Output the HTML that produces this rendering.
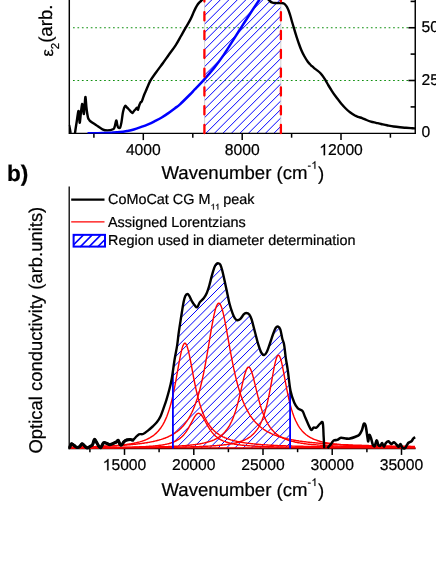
<!DOCTYPE html>
<html><head><meta charset="utf-8"><title>chart</title>
<style>html,body{margin:0;padding:0;background:#fff;overflow:hidden}body{width:436px;height:564px}</style>
</head><body>
<svg width="436" height="564" viewBox="0 0 436 564" text-rendering="geometricPrecision" style="display:block;will-change:transform;font-family:'Liberation Sans',sans-serif" fill="#000">
<defs>
<clipPath id="ct"><rect x="204.6" y="-2" width="76.2" height="135.3"/></clipPath>
<clipPath id="ctb"><rect x="69.3" y="-2" width="347" height="135.4"/></clipPath>
<clipPath id="ctp"><rect x="69.3" y="-2" width="347" height="136.2"/></clipPath>
<clipPath id="cb"><path d="M173.0,448.5 L173.0,370.3 L174.6,359.5 L177.2,345.1 L178.8,332.1 L181.3,316.0 L183.7,301.6 L185.3,295.9 L187.4,294.0 L189.3,295.9 L191.7,300.8 L194.9,305.6 L197.3,307.2 L199.7,302.4 L203.7,298.3 L206.9,292.7 L209.3,285.5 L211.8,275.9 L214.2,267.8 L216.1,264.3 L218.2,263.3 L220.3,264.6 L222.2,270.3 L224.6,280.7 L227.0,291.9 L229.4,303.2 L232.4,312.8 L234.8,318.1 L237.2,320.2 L240.4,318.9 L243.7,314.4 L246.1,313.0 L249.3,314.4 L251.7,319.7 L254.9,331.7 L258.1,343.8 L261.3,352.6 L264.2,355.0 L266.9,351.8 L270.1,343.0 L273.4,333.3 L275.8,327.7 L278.2,326.6 L280.3,329.3 L282.2,338.2 L284.1,344.6 L285.7,357.4 L287.8,370.3 L290.0,386.9 L290.0,448.5Z"/></clipPath>
<clipPath id="cl"><rect x="73" y="234" width="33" height="13.5"/></clipPath>
</defs>
<style>text{stroke:#000;stroke-width:0.22px;stroke-linejoin:round}.h{fill:none;stroke:none}</style>
<rect width="436" height="564" fill="#fff"/>
<line x1="73.0" y1="27.75" x2="409" y2="27.75" stroke="#109010" stroke-width="1.05" stroke-dasharray="1.7 2.746"/>
<line x1="73.0" y1="80.5" x2="409" y2="80.5" stroke="#109010" stroke-width="1.05" stroke-dasharray="1.7 2.746"/>
<path d="M69.90,133.30L205.20,-2.00 M78.40,133.30L213.70,-2.00 M86.90,133.30L222.20,-2.00 M95.40,133.30L230.70,-2.00 M103.90,133.30L239.20,-2.00 M112.40,133.30L247.70,-2.00 M120.90,133.30L256.20,-2.00 M129.40,133.30L264.70,-2.00 M137.90,133.30L273.20,-2.00 M146.40,133.30L281.70,-2.00 M154.90,133.30L290.20,-2.00 M163.40,133.30L298.70,-2.00 M171.90,133.30L307.20,-2.00 M180.40,133.30L315.70,-2.00 M188.90,133.30L324.20,-2.00 M197.40,133.30L332.70,-2.00 M205.90,133.30L341.20,-2.00 M214.40,133.30L349.70,-2.00 M222.90,133.30L358.20,-2.00 M231.40,133.30L366.70,-2.00 M239.90,133.30L375.20,-2.00 M248.40,133.30L383.70,-2.00 M256.90,133.30L392.20,-2.00 M265.40,133.30L400.70,-2.00 M273.90,133.30L409.20,-2.00 M282.40,133.30L417.70,-2.00" stroke="#0000ff" stroke-width="1.0" fill="none" clip-path="url(#ct)"/>
<path d="M204.6,-2V133M280.8,-2V133" stroke="#c8c8c8" stroke-width="0.8" fill="none"/>
<path d="M69.5,125.0 L70.3,129.0 L71.0,133.0" stroke="#000" stroke-width="1.6" fill="none" stroke-linejoin="round"/>
<path d="M75.0,133.2 C75.2,131.5 75.9,126.7 76.5,123.0 C77.1,119.3 78.0,112.0 78.4,111.0 C78.9,110.0 79.0,115.1 79.2,117.0 C79.4,118.9 79.5,123.4 79.8,122.6 C80.1,121.8 80.6,115.1 81.0,112.0 C81.4,108.9 81.8,104.5 82.1,104.0 C82.4,103.5 82.8,107.3 83.1,109.0 C83.4,110.7 83.6,114.8 83.9,114.0 C84.2,113.2 84.4,106.8 84.7,104.0 C85.0,101.2 85.2,96.3 85.5,97.0 C85.8,97.7 86.1,104.6 86.5,108.0 C86.9,111.4 87.5,115.6 88.0,117.6 C88.5,119.6 88.8,119.2 89.2,119.8 C89.6,120.4 89.3,120.4 90.4,121.3 C91.5,122.2 94.0,123.7 96.0,125.0 C98.0,126.3 100.6,128.4 102.5,129.3 C104.4,130.2 105.7,130.4 107.4,130.4 C109.2,130.4 111.8,129.9 113.0,129.3 C114.2,128.7 114.1,128.5 114.6,127.0 C115.1,125.5 115.8,120.8 116.2,120.5 C116.7,120.2 117.0,123.8 117.3,125.0 C117.6,126.2 117.8,127.2 118.3,127.6 C118.8,128.0 119.7,128.3 120.2,127.4 C120.7,126.5 121.0,124.6 121.5,122.0 C122.0,119.4 122.4,114.7 123.0,112.0 C123.6,109.3 124.4,106.8 125.1,106.0 C125.8,105.2 126.3,106.9 127.0,107.5 C127.7,108.1 128.3,108.8 129.0,109.5 C129.7,110.2 130.4,111.2 131.0,111.8 C131.6,112.4 131.9,113.1 132.4,113.0 C132.9,112.9 133.4,111.7 134.0,111.0 C134.6,110.3 135.3,109.6 135.8,109.0 C136.3,108.4 136.8,107.5 137.2,107.6 C137.6,107.7 137.7,110.1 138.0,109.8 C138.3,109.5 138.8,106.7 139.2,105.5 C139.6,104.3 140.2,103.1 140.6,102.4 C141.0,101.8 141.3,102.2 141.7,101.6 C142.0,101.0 142.3,100.1 142.7,99.0 C143.1,97.9 143.6,96.3 144.1,95.0 C144.6,93.7 144.8,93.4 145.8,91.0 C146.9,88.6 148.7,83.8 150.4,80.7 C152.1,77.6 153.9,75.5 156.0,72.5 C158.1,69.5 160.8,66.0 163.0,63.0 C165.2,60.0 166.9,57.4 169.0,54.5 C171.1,51.6 173.6,48.5 175.6,45.4 C177.6,42.3 179.3,39.0 181.0,36.0 C182.7,33.0 184.1,30.6 185.7,27.7 C187.3,24.8 189.4,21.4 190.7,18.9 C192.0,16.4 192.7,14.4 193.5,12.5 C194.3,10.6 195.1,9.0 195.8,7.6 C196.6,6.2 197.4,4.9 198.0,4.0 C198.6,3.1 199.0,2.8 199.6,2.2 C200.2,1.6 200.9,1.0 201.5,0.5 C202.1,-0.0 203.0,-0.8 203.3,-1.0" stroke="#000" stroke-width="2.4" fill="none" stroke-linejoin="round" clip-path="url(#ctp)"/>
<path d="M267.3,-1.6 C267.8,-1.1 269.1,0.5 270.0,1.2 C270.9,1.9 271.7,2.3 272.5,2.6 C273.3,2.9 274.1,2.9 275.0,3.0 C275.9,3.1 276.9,3.1 278.0,3.1 C279.1,3.1 280.5,3.0 281.4,3.0 C282.3,3.0 282.9,3.1 283.5,3.4 C284.1,3.6 284.5,3.9 285.1,4.5 C285.7,5.1 286.4,5.8 287.0,7.0 C287.6,8.2 288.3,9.7 288.9,11.4 C289.5,13.1 290.1,14.9 290.7,17.0 C291.3,19.1 291.7,20.7 292.7,24.0 C293.7,27.3 295.4,33.3 296.5,36.6 C297.6,39.9 298.2,41.7 299.0,44.0 C299.8,46.3 300.6,48.4 301.5,50.5 C302.4,52.6 303.4,54.6 304.5,56.5 C305.6,58.4 306.7,60.3 307.8,61.8 C308.9,63.3 309.9,64.2 311.0,65.3 C312.1,66.3 313.0,67.2 314.1,68.1 C315.2,69.0 316.4,69.8 317.5,70.6 C318.6,71.4 319.6,72.2 320.5,73.2 C321.4,74.2 322.2,75.1 323.0,76.3 C323.8,77.5 324.6,78.7 325.5,80.2 C326.4,81.7 327.4,83.7 328.5,85.5 C329.6,87.3 330.7,89.1 331.8,90.8 C332.9,92.5 333.9,94.0 335.0,95.5 C336.1,97.0 336.9,98.1 338.1,99.6 C339.3,101.1 340.7,103.0 342.0,104.5 C343.3,106.0 344.4,107.2 345.7,108.5 C347.0,109.8 348.5,111.2 350.0,112.3 C351.5,113.4 353.2,114.5 354.5,115.3 C355.8,116.0 356.7,116.3 358.0,116.8 C359.3,117.3 360.7,117.6 362.1,118.1 C363.5,118.6 365.0,119.4 366.5,120.0 C368.0,120.6 369.3,121.1 370.9,121.6 C372.5,122.1 374.3,122.4 376.0,122.8 C377.7,123.2 379.3,123.6 381.1,124.0 C382.9,124.4 384.9,124.9 387.0,125.3 C389.1,125.7 391.4,126.2 393.6,126.5 C395.8,126.8 397.9,127.0 400.0,127.2 C402.1,127.4 404.2,127.7 406.0,127.8 C407.8,127.9 409.4,128.0 411.0,128.1 C412.6,128.2 414.7,128.3 415.4,128.4" stroke="#000" stroke-width="2.4" fill="none" stroke-linejoin="round"/>
<path d="M69.3,-2V133.38000000000002H415.25V-2" stroke="#000" stroke-width="1.45" fill="none" stroke-linejoin="miter"/>
<line x1="93.9" y1="133.3" x2="93.9" y2="137.70000000000002" stroke="#000" stroke-width="1.5"/>
<line x1="143.3" y1="133.3" x2="143.3" y2="140.10000000000002" stroke="#000" stroke-width="1.5"/>
<line x1="192.8" y1="133.3" x2="192.8" y2="137.70000000000002" stroke="#000" stroke-width="1.5"/>
<line x1="242.2" y1="133.3" x2="242.2" y2="140.10000000000002" stroke="#000" stroke-width="1.5"/>
<line x1="291.6" y1="133.3" x2="291.6" y2="137.70000000000002" stroke="#000" stroke-width="1.5"/>
<line x1="341.0" y1="133.3" x2="341.0" y2="140.10000000000002" stroke="#000" stroke-width="1.5"/>
<line x1="390.4" y1="133.3" x2="390.4" y2="137.70000000000002" stroke="#000" stroke-width="1.5"/>
<line x1="410.59999999999997" y1="1.4" x2="415.2" y2="1.4" stroke="#000" stroke-width="1.6"/>
<line x1="408.4" y1="27.75" x2="415.2" y2="27.75" stroke="#000" stroke-width="1.6"/>
<line x1="410.59999999999997" y1="54.1" x2="415.2" y2="54.1" stroke="#000" stroke-width="1.6"/>
<line x1="408.4" y1="80.5" x2="415.2" y2="80.5" stroke="#000" stroke-width="1.6"/>
<line x1="410.59999999999997" y1="106.9" x2="415.2" y2="106.9" stroke="#000" stroke-width="1.6"/>
<path d="M87.5,133.3 C88.2,133.3 90.2,133.3 92.0,133.3 C93.8,133.3 95.7,133.2 98.0,133.2 C100.3,133.1 103.5,133.0 106.0,132.9 C108.5,132.8 110.7,132.7 113.0,132.6 C115.3,132.5 117.7,132.4 120.0,132.1 C122.3,131.8 124.7,131.4 127.0,131.0 C129.3,130.6 131.2,130.3 133.8,129.5 C136.4,128.7 140.5,127.2 142.8,126.4 C145.1,125.6 145.6,125.4 147.5,124.6 C149.4,123.8 151.7,122.8 154.0,121.6 C156.3,120.4 159.0,119.1 161.3,117.7 C163.6,116.3 165.7,115.0 168.0,113.4 C170.3,111.8 173.0,109.7 175.0,108.2 C177.0,106.7 177.5,106.6 180.0,104.3 C182.5,102.0 187.5,97.0 190.0,94.5 C192.5,92.0 192.6,91.7 195.0,89.2 C197.4,86.7 201.1,82.9 204.3,79.3 C207.5,75.7 211.0,71.7 214.3,67.6 C217.6,63.5 220.7,59.3 223.9,54.6 C227.1,49.9 230.6,44.2 233.5,39.6 C236.4,35.0 238.9,31.0 241.6,26.8 C244.3,22.6 246.7,19.0 249.6,14.5 C252.5,10.0 257.1,3.1 259.2,0.0 C261.3,-3.1 261.5,-3.5 262.0,-4.2" stroke="#0000ff" stroke-width="2.5" fill="none" clip-path="url(#ctb)"/>
<line x1="204.4" y1="-6.6" x2="204.4" y2="133.2" stroke="#ff0000" stroke-width="2.3" stroke-dasharray="8.2 10.6" stroke-linecap="round"/>
<line x1="280.9" y1="-6.6" x2="280.9" y2="133.2" stroke="#ff0000" stroke-width="2.3" stroke-dasharray="8.2 10.6" stroke-linecap="round"/>
<text x="125.89" y="155.2" font-size="15.7">4000</text>
<text x="224.73" y="155.2" font-size="15.7">8000</text>
<path d="M325.06,155.20L323.68,155.20L323.68,146.41Q323.18,146.88 322.37,147.36Q321.56,147.83 320.92,148.07L320.92,146.74Q322.07,146.19 322.94,145.42Q323.81,144.64 324.17,143.91L325.06,143.91Z" fill="#000" stroke="#000" stroke-width="0.22" stroke-linejoin="round"/>
<text x="319.21" y="155.2" font-size="15.7"><tspan class="h">1</tspan>2000</text>
<text x="421.5" y="31.95" font-size="15.7">50</text>
<text x="421.5" y="84.70" font-size="15.7">25</text>
<text x="421.5" y="137.45" font-size="15.7">0</text>
<text x="161.5" y="179.3" font-size="18.6">Wavenumber <tspan dy="0.8">(</tspan><tspan dy="-0.8">cm</tspan></text>
<text x="307.58" y="168.80" font-size="10.6">-<tspan class="h" dx="0.3">1</tspan></text>
<path d="M315.36,168.80L314.42,168.80L314.42,162.86Q314.09,163.18 313.54,163.51Q312.99,163.83 312.56,163.99L312.56,163.09Q313.34,162.72 313.93,162.20Q314.51,161.67 314.75,161.18L315.36,161.18Z" fill="#000" stroke="#000" stroke-width="0.22" stroke-linejoin="round"/>
<text x="317.90" y="180.10" font-size="18.6">)</text>
<text transform="translate(52.0,56.6) rotate(-90)" font-size="18.6"><tspan font-size="16.5" dy="0.8">ε</tspan><tspan font-size="11.5" dy="6.6">2</tspan><tspan dy="-7.4">(arb. units)</tspan></text>
<text x="6.9" y="180.7" font-size="22.6" font-weight="bold">b)</text>
<path d="M-17.33,449.00L176.67,255.00 M-8.96,449.00L185.04,255.00 M-0.59,449.00L193.41,255.00 M7.78,449.00L201.78,255.00 M16.15,449.00L210.15,255.00 M24.52,449.00L218.52,255.00 M32.89,449.00L226.89,255.00 M41.26,449.00L235.26,255.00 M49.63,449.00L243.63,255.00 M58.00,449.00L252.00,255.00 M66.37,449.00L260.37,255.00 M74.74,449.00L268.74,255.00 M83.11,449.00L277.11,255.00 M91.48,449.00L285.48,255.00 M99.85,449.00L293.85,255.00 M108.22,449.00L302.22,255.00 M116.59,449.00L310.59,255.00 M124.96,449.00L318.96,255.00 M133.33,449.00L327.33,255.00 M141.70,449.00L335.70,255.00 M150.07,449.00L344.07,255.00 M158.44,449.00L352.44,255.00 M166.81,449.00L360.81,255.00 M175.18,449.00L369.18,255.00 M183.55,449.00L377.55,255.00 M191.92,449.00L385.92,255.00 M200.29,449.00L394.29,255.00 M208.66,449.00L402.66,255.00 M217.03,449.00L411.03,255.00 M225.40,449.00L419.40,255.00 M233.77,449.00L427.77,255.00 M242.14,449.00L436.14,255.00 M250.51,449.00L444.51,255.00 M258.88,449.00L452.88,255.00 M267.25,449.00L461.25,255.00 M275.62,449.00L469.62,255.00 M283.99,449.00L477.99,255.00 M292.36,449.00L486.36,255.00" stroke="#0000ff" stroke-width="1.0" fill="none" clip-path="url(#cb)"/>
<path d="M69.2,186.5V449.3" stroke="#000" stroke-width="1.3" fill="none"/>
<path d="M68.55,448.5H415.6" stroke="#000" stroke-width="1.6" fill="none"/>
<line x1="89.9" y1="448.5" x2="89.9" y2="452.2" stroke="#000" stroke-width="1.5"/>
<line x1="124.5" y1="448.5" x2="124.5" y2="454.90000000000003" stroke="#000" stroke-width="1.5"/>
<line x1="159.1" y1="448.5" x2="159.1" y2="452.2" stroke="#000" stroke-width="1.5"/>
<line x1="193.8" y1="448.5" x2="193.8" y2="454.90000000000003" stroke="#000" stroke-width="1.5"/>
<line x1="228.4" y1="448.5" x2="228.4" y2="452.2" stroke="#000" stroke-width="1.5"/>
<line x1="263.0" y1="448.5" x2="263.0" y2="454.90000000000003" stroke="#000" stroke-width="1.5"/>
<line x1="297.6" y1="448.5" x2="297.6" y2="452.2" stroke="#000" stroke-width="1.5"/>
<line x1="332.2" y1="448.5" x2="332.2" y2="454.90000000000003" stroke="#000" stroke-width="1.5"/>
<line x1="366.9" y1="448.5" x2="366.9" y2="452.2" stroke="#000" stroke-width="1.5"/>
<line x1="401.5" y1="448.5" x2="401.5" y2="454.90000000000003" stroke="#000" stroke-width="1.5"/>
<line x1="69.3" y1="447.9" x2="415.6" y2="447.9" stroke="#ff0000" stroke-width="1.3"/>
<path d="M69.3,447.3 L70.1,447.3 L70.9,447.3 L71.7,447.2 L72.5,447.2 L73.3,447.2 L74.1,447.2 L74.9,447.2 L75.7,447.2 L76.5,447.2 L77.3,447.1 L78.1,447.1 L78.9,447.1 L79.7,447.1 L80.5,447.1 L81.3,447.1 L82.1,447.0 L82.9,447.0 L83.7,447.0 L84.5,447.0 L85.3,447.0 L86.1,446.9 L86.9,446.9 L87.7,446.9 L88.5,446.9 L89.3,446.8 L90.1,446.8 L90.9,446.8 L91.7,446.8 L92.5,446.7 L93.3,446.7 L94.1,446.7 L94.9,446.7 L95.7,446.6 L96.5,446.6 L97.3,446.6 L98.1,446.5 L98.9,446.5 L99.7,446.5 L100.5,446.4 L101.3,446.4 L102.1,446.4 L102.9,446.3 L103.7,446.3 L104.5,446.3 L105.3,446.2 L106.1,446.2 L106.9,446.1 L107.7,446.1 L108.5,446.0 L109.3,446.0 L110.1,445.9 L110.9,445.9 L111.7,445.8 L112.5,445.8 L113.3,445.7 L114.1,445.7 L114.9,445.6 L115.7,445.6 L116.5,445.5 L117.3,445.4 L118.1,445.4 L118.9,445.3 L119.7,445.2 L120.5,445.1 L121.3,445.0 L122.1,445.0 L122.9,444.9 L123.7,444.8 L124.5,444.7 L125.3,444.6 L126.1,444.5 L126.9,444.4 L127.7,444.3 L128.5,444.2 L129.3,444.0 L130.1,443.9 L130.9,443.8 L131.7,443.6 L132.5,443.5 L133.3,443.4 L134.1,443.2 L134.9,443.0 L135.7,442.9 L136.5,442.7 L137.3,442.5 L138.1,442.3 L138.9,442.1 L139.7,441.9 L140.5,441.6 L141.3,441.4 L142.1,441.2 L142.9,440.9 L143.7,440.6 L144.5,440.3 L145.3,440.0 L146.1,439.7 L146.9,439.3 L147.7,438.9 L148.5,438.5 L149.3,438.1 L150.1,437.7 L150.9,437.2 L151.7,436.7 L152.5,436.2 L153.3,435.6 L154.1,435.0 L154.9,434.3 L155.7,433.6 L156.5,432.9 L157.3,432.1 L158.1,431.3 L158.9,430.3 L159.7,429.3 L160.5,428.3 L161.3,427.1 L162.1,425.9 L162.9,424.6 L163.7,423.2 L164.5,421.6 L165.3,419.9 L166.1,418.1 L166.9,416.2 L167.7,414.0 L168.5,411.7 L169.3,409.3 L170.1,406.6 L170.9,403.7 L171.7,400.6 L172.5,397.2 L173.3,393.7 L174.1,389.9 L174.9,385.8 L175.7,381.6 L176.5,377.2 L177.3,372.7 L178.1,368.2 L178.9,363.7 L179.7,359.3 L180.5,355.3 L181.3,351.6 L182.1,348.4 L182.9,345.9 L183.7,344.2 L184.5,343.3 L185.3,343.3 L186.1,344.2 L186.9,345.9 L187.7,348.3 L188.5,351.4 L189.3,354.9 L190.1,358.8 L190.9,363.0 L191.7,367.2 L192.5,371.6 L193.3,375.8 L194.1,380.0 L194.9,384.0 L195.7,387.8 L196.5,391.4 L197.3,394.8 L198.1,398.0 L198.9,401.0 L199.7,403.8 L200.5,406.4 L201.3,408.8 L202.1,411.0 L202.9,413.1 L203.7,415.0 L204.5,416.8 L205.3,418.5 L206.1,420.0 L206.9,421.5 L207.7,422.8 L208.5,424.0 L209.3,425.2 L210.1,426.3 L210.9,427.3 L211.7,428.2 L212.5,429.1 L213.3,430.0 L214.1,430.7 L214.9,431.5 L215.7,432.1 L216.5,432.8 L217.3,433.4 L218.1,433.9 L218.9,434.5 L219.7,435.0 L220.5,435.5 L221.3,435.9 L222.1,436.4 L222.9,436.8 L223.7,437.1 L224.5,437.5 L225.3,437.9 L226.1,438.2 L226.9,438.5 L227.7,438.8 L228.5,439.1 L229.3,439.3 L230.1,439.6 L230.9,439.9 L231.7,440.1 L232.5,440.3 L233.3,440.5 L234.1,440.7 L234.9,440.9 L235.7,441.1 L236.5,441.3 L237.3,441.5 L238.1,441.6 L238.9,441.8 L239.7,442.0 L240.5,442.1 L241.3,442.2 L242.1,442.4 L242.9,442.5 L243.7,442.6 L244.5,442.8 L245.3,442.9 L246.1,443.0 L246.9,443.1 L247.7,443.2 L248.5,443.3 L249.3,443.4 L250.1,443.5 L250.9,443.6 L251.7,443.7 L252.5,443.8 L253.3,443.9 L254.1,443.9 L254.9,444.0 L255.7,444.1 L256.5,444.2 L257.3,444.2 L258.1,444.3 L258.9,444.4 L259.7,444.5 L260.5,444.5 L261.3,444.6 L262.1,444.6 L262.9,444.7 L263.7,444.8 L264.5,444.8 L265.3,444.9 L266.1,444.9 L266.9,445.0 L267.7,445.0 L268.5,445.1 L269.3,445.1 L270.1,445.2 L270.9,445.2 L271.7,445.2 L272.5,445.3 L273.3,445.3 L274.1,445.4 L274.9,445.4 L275.7,445.4 L276.5,445.5 L277.3,445.5 L278.1,445.6 L278.9,445.6 L279.7,445.6 L280.5,445.7 L281.3,445.7 L282.1,445.7 L282.9,445.7 L283.7,445.8 L284.5,445.8 L285.3,445.8 L286.1,445.9 L286.9,445.9 L287.7,445.9 L288.5,445.9 L289.3,446.0 L290.1,446.0 L290.9,446.0 L291.7,446.0 L292.5,446.1 L293.3,446.1 L294.1,446.1 L294.9,446.1 L295.7,446.2 L296.5,446.2 L297.3,446.2 L298.1,446.2 L298.9,446.2 L299.7,446.3 L300.5,446.3 L301.3,446.3 L302.1,446.3 L302.9,446.3 L303.7,446.4 L304.5,446.4 L305.3,446.4 L306.1,446.4 L306.9,446.4 L307.7,446.4 L308.5,446.5 L309.3,446.5 L310.1,446.5 L310.9,446.5 L311.7,446.5 L312.5,446.5 L313.3,446.5 L314.1,446.6 L314.9,446.6 L315.7,446.6 L316.5,446.6 L317.3,446.6 L318.1,446.6 L318.9,446.6 L319.7,446.7 L320.5,446.7 L321.3,446.7 L322.1,446.7 L322.9,446.7 L323.7,446.7 L324.5,446.7 L325.3,446.7 L326.1,446.8 L326.9,446.8 L327.7,446.8 L328.5,446.8 L329.3,446.8 L330.1,446.8 L330.9,446.8 L331.7,446.8 L332.5,446.8 L333.3,446.8 L334.1,446.9 L334.9,446.9 L335.7,446.9 L336.5,446.9 L337.3,446.9 L338.1,446.9 L338.9,446.9 L339.7,446.9 L340.5,446.9 L341.3,446.9 L342.1,446.9 L342.9,447.0 L343.7,447.0 L344.5,447.0 L345.3,447.0 L346.1,447.0 L346.9,447.0 L347.7,447.0 L348.5,447.0 L349.3,447.0 L350.1,447.0 L350.9,447.0 L351.7,447.0 L352.5,447.0 L353.3,447.0 L354.1,447.1 L354.9,447.1 L355.7,447.1 L356.5,447.1 L357.3,447.1 L358.1,447.1 L358.9,447.1 L359.7,447.1 L360.5,447.1 L361.3,447.1 L362.1,447.1 L362.9,447.1 L363.7,447.1 L364.5,447.1 L365.3,447.1 L366.1,447.1 L366.9,447.2 L367.7,447.2 L368.5,447.2 L369.3,447.2 L370.1,447.2 L370.9,447.2 L371.7,447.2 L372.5,447.2 L373.3,447.2 L374.1,447.2 L374.9,447.2 L375.7,447.2 L376.5,447.2 L377.3,447.2 L378.1,447.2 L378.9,447.2 L379.7,447.2 L380.5,447.2 L381.3,447.2 L382.1,447.2 L382.9,447.3 L383.7,447.3 L384.5,447.3 L385.3,447.3 L386.1,447.3 L386.9,447.3 L387.7,447.3 L388.5,447.3 L389.3,447.3 L390.1,447.3 L390.9,447.3 L391.7,447.3 L392.5,447.3 L393.3,447.3 L394.1,447.3 L394.9,447.3 L395.7,447.3 L396.5,447.3 L397.3,447.3 L398.1,447.3 L398.9,447.3 L399.7,447.3 L400.5,447.3 L401.3,447.3 L402.1,447.3 L402.9,447.3 L403.7,447.4 L404.5,447.4 L405.3,447.4 L406.1,447.4 L406.9,447.4 L407.7,447.4 L408.5,447.4 L409.3,447.4 L410.1,447.4 L410.9,447.4 L411.7,447.4 L412.5,447.4 L413.3,447.4 L414.1,447.4 L414.9,447.4" stroke="#ff0000" stroke-width="1.4" fill="none" stroke-linejoin="round"/>
<path d="M69.3,447.1 L70.1,447.1 L70.9,447.1 L71.7,447.1 L72.5,447.1 L73.3,447.1 L74.1,447.1 L74.9,447.0 L75.7,447.0 L76.5,447.0 L77.3,447.0 L78.1,447.0 L78.9,447.0 L79.7,447.0 L80.5,446.9 L81.3,446.9 L82.1,446.9 L82.9,446.9 L83.7,446.9 L84.5,446.8 L85.3,446.8 L86.1,446.8 L86.9,446.8 L87.7,446.8 L88.5,446.7 L89.3,446.7 L90.1,446.7 L90.9,446.7 L91.7,446.7 L92.5,446.6 L93.3,446.6 L94.1,446.6 L94.9,446.6 L95.7,446.5 L96.5,446.5 L97.3,446.5 L98.1,446.5 L98.9,446.4 L99.7,446.4 L100.5,446.4 L101.3,446.4 L102.1,446.3 L102.9,446.3 L103.7,446.3 L104.5,446.2 L105.3,446.2 L106.1,446.2 L106.9,446.1 L107.7,446.1 L108.5,446.1 L109.3,446.0 L110.1,446.0 L110.9,446.0 L111.7,445.9 L112.5,445.9 L113.3,445.8 L114.1,445.8 L114.9,445.8 L115.7,445.7 L116.5,445.7 L117.3,445.6 L118.1,445.6 L118.9,445.5 L119.7,445.5 L120.5,445.4 L121.3,445.4 L122.1,445.3 L122.9,445.3 L123.7,445.2 L124.5,445.2 L125.3,445.1 L126.1,445.0 L126.9,445.0 L127.7,444.9 L128.5,444.8 L129.3,444.8 L130.1,444.7 L130.9,444.6 L131.7,444.6 L132.5,444.5 L133.3,444.4 L134.1,444.3 L134.9,444.2 L135.7,444.2 L136.5,444.1 L137.3,444.0 L138.1,443.9 L138.9,443.8 L139.7,443.7 L140.5,443.6 L141.3,443.5 L142.1,443.4 L142.9,443.3 L143.7,443.2 L144.5,443.0 L145.3,442.9 L146.1,442.8 L146.9,442.7 L147.7,442.5 L148.5,442.4 L149.3,442.3 L150.1,442.1 L150.9,441.9 L151.7,441.8 L152.5,441.6 L153.3,441.5 L154.1,441.3 L154.9,441.1 L155.7,440.9 L156.5,440.7 L157.3,440.5 L158.1,440.3 L158.9,440.1 L159.7,439.8 L160.5,439.6 L161.3,439.4 L162.1,439.1 L162.9,438.8 L163.7,438.5 L164.5,438.3 L165.3,438.0 L166.1,437.6 L166.9,437.3 L167.7,437.0 L168.5,436.6 L169.3,436.2 L170.1,435.8 L170.9,435.4 L171.7,435.0 L172.5,434.5 L173.3,434.1 L174.1,433.6 L174.9,433.1 L175.7,432.5 L176.5,432.0 L177.3,431.4 L178.1,430.7 L178.9,430.1 L179.7,429.4 L180.5,428.6 L181.3,427.9 L182.1,427.0 L182.9,426.2 L183.7,425.3 L184.5,424.3 L185.3,423.3 L186.1,422.2 L186.9,421.1 L187.7,419.9 L188.5,418.7 L189.3,417.3 L190.1,415.9 L190.9,414.4 L191.7,412.8 L192.5,411.1 L193.3,409.3 L194.1,407.3 L194.9,405.3 L195.7,403.1 L196.5,400.8 L197.3,398.4 L198.1,395.8 L198.9,393.0 L199.7,390.1 L200.5,387.0 L201.3,383.7 L202.1,380.3 L202.9,376.6 L203.7,372.8 L204.5,368.8 L205.3,364.6 L206.1,360.2 L206.9,355.7 L207.7,351.0 L208.5,346.3 L209.3,341.5 L210.1,336.7 L210.9,331.9 L211.7,327.2 L212.5,322.8 L213.3,318.6 L214.1,314.7 L214.9,311.3 L215.7,308.4 L216.5,306.1 L217.3,304.5 L218.1,303.5 L218.9,303.2 L219.7,303.6 L220.5,304.8 L221.3,306.6 L222.1,309.0 L222.9,311.9 L223.7,315.3 L224.5,319.1 L225.3,323.1 L226.1,327.4 L226.9,331.8 L227.7,336.3 L228.5,340.9 L229.3,345.4 L230.1,349.8 L230.9,354.1 L231.7,358.4 L232.5,362.4 L233.3,366.4 L234.1,370.1 L234.9,373.7 L235.7,377.1 L236.5,380.4 L237.3,383.5 L238.1,386.4 L238.9,389.1 L239.7,391.8 L240.5,394.2 L241.3,396.6 L242.1,398.8 L242.9,400.9 L243.7,402.9 L244.5,404.7 L245.3,406.5 L246.1,408.2 L246.9,409.7 L247.7,411.2 L248.5,412.7 L249.3,414.0 L250.1,415.3 L250.9,416.5 L251.7,417.6 L252.5,418.7 L253.3,419.7 L254.1,420.7 L254.9,421.6 L255.7,422.5 L256.5,423.3 L257.3,424.1 L258.1,424.9 L258.9,425.6 L259.7,426.3 L260.5,427.0 L261.3,427.6 L262.1,428.2 L262.9,428.8 L263.7,429.4 L264.5,429.9 L265.3,430.4 L266.1,430.9 L266.9,431.3 L267.7,431.8 L268.5,432.2 L269.3,432.6 L270.1,433.0 L270.9,433.4 L271.7,433.8 L272.5,434.1 L273.3,434.5 L274.1,434.8 L274.9,435.1 L275.7,435.4 L276.5,435.7 L277.3,436.0 L278.1,436.3 L278.9,436.5 L279.7,436.8 L280.5,437.0 L281.3,437.3 L282.1,437.5 L282.9,437.7 L283.7,437.9 L284.5,438.1 L285.3,438.3 L286.1,438.5 L286.9,438.7 L287.7,438.9 L288.5,439.1 L289.3,439.2 L290.1,439.4 L290.9,439.6 L291.7,439.7 L292.5,439.9 L293.3,440.0 L294.1,440.2 L294.9,440.3 L295.7,440.4 L296.5,440.6 L297.3,440.7 L298.1,440.8 L298.9,441.0 L299.7,441.1 L300.5,441.2 L301.3,441.3 L302.1,441.4 L302.9,441.5 L303.7,441.6 L304.5,441.7 L305.3,441.8 L306.1,441.9 L306.9,442.0 L307.7,442.1 L308.5,442.2 L309.3,442.3 L310.1,442.4 L310.9,442.4 L311.7,442.5 L312.5,442.6 L313.3,442.7 L314.1,442.8 L314.9,442.8 L315.7,442.9 L316.5,443.0 L317.3,443.0 L318.1,443.1 L318.9,443.2 L319.7,443.2 L320.5,443.3 L321.3,443.4 L322.1,443.4 L322.9,443.5 L323.7,443.5 L324.5,443.6 L325.3,443.7 L326.1,443.7 L326.9,443.8 L327.7,443.8 L328.5,443.9 L329.3,443.9 L330.1,444.0 L330.9,444.0 L331.7,444.1 L332.5,444.1 L333.3,444.2 L334.1,444.2 L334.9,444.2 L335.7,444.3 L336.5,444.3 L337.3,444.4 L338.1,444.4 L338.9,444.4 L339.7,444.5 L340.5,444.5 L341.3,444.6 L342.1,444.6 L342.9,444.6 L343.7,444.7 L344.5,444.7 L345.3,444.7 L346.1,444.8 L346.9,444.8 L347.7,444.8 L348.5,444.9 L349.3,444.9 L350.1,444.9 L350.9,445.0 L351.7,445.0 L352.5,445.0 L353.3,445.1 L354.1,445.1 L354.9,445.1 L355.7,445.1 L356.5,445.2 L357.3,445.2 L358.1,445.2 L358.9,445.3 L359.7,445.3 L360.5,445.3 L361.3,445.3 L362.1,445.4 L362.9,445.4 L363.7,445.4 L364.5,445.4 L365.3,445.4 L366.1,445.5 L366.9,445.5 L367.7,445.5 L368.5,445.5 L369.3,445.6 L370.1,445.6 L370.9,445.6 L371.7,445.6 L372.5,445.6 L373.3,445.7 L374.1,445.7 L374.9,445.7 L375.7,445.7 L376.5,445.7 L377.3,445.8 L378.1,445.8 L378.9,445.8 L379.7,445.8 L380.5,445.8 L381.3,445.8 L382.1,445.9 L382.9,445.9 L383.7,445.9 L384.5,445.9 L385.3,445.9 L386.1,445.9 L386.9,446.0 L387.7,446.0 L388.5,446.0 L389.3,446.0 L390.1,446.0 L390.9,446.0 L391.7,446.0 L392.5,446.1 L393.3,446.1 L394.1,446.1 L394.9,446.1 L395.7,446.1 L396.5,446.1 L397.3,446.1 L398.1,446.2 L398.9,446.2 L399.7,446.2 L400.5,446.2 L401.3,446.2 L402.1,446.2 L402.9,446.2 L403.7,446.2 L404.5,446.3 L405.3,446.3 L406.1,446.3 L406.9,446.3 L407.7,446.3 L408.5,446.3 L409.3,446.3 L410.1,446.3 L410.9,446.4 L411.7,446.4 L412.5,446.4 L413.3,446.4 L414.1,446.4 L414.9,446.4" stroke="#ff0000" stroke-width="1.4" fill="none" stroke-linejoin="round"/>
<path d="M69.3,447.8 L70.1,447.7 L70.9,447.7 L71.7,447.7 L72.5,447.7 L73.3,447.7 L74.1,447.7 L74.9,447.7 L75.7,447.7 L76.5,447.7 L77.3,447.7 L78.1,447.7 L78.9,447.7 L79.7,447.7 L80.5,447.7 L81.3,447.7 L82.1,447.7 L82.9,447.7 L83.7,447.7 L84.5,447.7 L85.3,447.7 L86.1,447.7 L86.9,447.7 L87.7,447.7 L88.5,447.7 L89.3,447.7 L90.1,447.7 L90.9,447.7 L91.7,447.7 L92.5,447.7 L93.3,447.7 L94.1,447.7 L94.9,447.7 L95.7,447.6 L96.5,447.6 L97.3,447.6 L98.1,447.6 L98.9,447.6 L99.7,447.6 L100.5,447.6 L101.3,447.6 L102.1,447.6 L102.9,447.6 L103.7,447.6 L104.5,447.6 L105.3,447.6 L106.1,447.6 L106.9,447.6 L107.7,447.6 L108.5,447.6 L109.3,447.6 L110.1,447.6 L110.9,447.6 L111.7,447.6 L112.5,447.5 L113.3,447.5 L114.1,447.5 L114.9,447.5 L115.7,447.5 L116.5,447.5 L117.3,447.5 L118.1,447.5 L118.9,447.5 L119.7,447.5 L120.5,447.5 L121.3,447.5 L122.1,447.5 L122.9,447.5 L123.7,447.4 L124.5,447.4 L125.3,447.4 L126.1,447.4 L126.9,447.4 L127.7,447.4 L128.5,447.4 L129.3,447.4 L130.1,447.4 L130.9,447.4 L131.7,447.4 L132.5,447.3 L133.3,447.3 L134.1,447.3 L134.9,447.3 L135.7,447.3 L136.5,447.3 L137.3,447.3 L138.1,447.3 L138.9,447.3 L139.7,447.3 L140.5,447.2 L141.3,447.2 L142.1,447.2 L142.9,447.2 L143.7,447.2 L144.5,447.2 L145.3,447.2 L146.1,447.1 L146.9,447.1 L147.7,447.1 L148.5,447.1 L149.3,447.1 L150.1,447.1 L150.9,447.0 L151.7,447.0 L152.5,447.0 L153.3,447.0 L154.1,447.0 L154.9,447.0 L155.7,446.9 L156.5,446.9 L157.3,446.9 L158.1,446.9 L158.9,446.8 L159.7,446.8 L160.5,446.8 L161.3,446.8 L162.1,446.8 L162.9,446.7 L163.7,446.7 L164.5,446.7 L165.3,446.6 L166.1,446.6 L166.9,446.6 L167.7,446.6 L168.5,446.5 L169.3,446.5 L170.1,446.5 L170.9,446.4 L171.7,446.4 L172.5,446.4 L173.3,446.3 L174.1,446.3 L174.9,446.2 L175.7,446.2 L176.5,446.2 L177.3,446.1 L178.1,446.1 L178.9,446.0 L179.7,446.0 L180.5,445.9 L181.3,445.9 L182.1,445.8 L182.9,445.8 L183.7,445.7 L184.5,445.6 L185.3,445.6 L186.1,445.5 L186.9,445.4 L187.7,445.4 L188.5,445.3 L189.3,445.2 L190.1,445.1 L190.9,445.0 L191.7,445.0 L192.5,444.9 L193.3,444.8 L194.1,444.7 L194.9,444.6 L195.7,444.5 L196.5,444.4 L197.3,444.2 L198.1,444.1 L198.9,444.0 L199.7,443.9 L200.5,443.7 L201.3,443.6 L202.1,443.4 L202.9,443.2 L203.7,443.1 L204.5,442.9 L205.3,442.7 L206.1,442.5 L206.9,442.3 L207.7,442.1 L208.5,441.8 L209.3,441.6 L210.1,441.3 L210.9,441.1 L211.7,440.8 L212.5,440.5 L213.3,440.1 L214.1,439.8 L214.9,439.4 L215.7,439.0 L216.5,438.6 L217.3,438.1 L218.1,437.7 L218.9,437.2 L219.7,436.6 L220.5,436.0 L221.3,435.4 L222.1,434.7 L222.9,434.0 L223.7,433.2 L224.5,432.4 L225.3,431.5 L226.1,430.5 L226.9,429.5 L227.7,428.4 L228.5,427.1 L229.3,425.8 L230.1,424.4 L230.9,422.8 L231.7,421.2 L232.5,419.4 L233.3,417.4 L234.1,415.3 L234.9,413.0 L235.7,410.6 L236.5,407.9 L237.3,405.1 L238.1,402.1 L238.9,399.0 L239.7,395.7 L240.5,392.2 L241.3,388.8 L242.1,385.2 L242.9,381.8 L243.7,378.5 L244.5,375.4 L245.3,372.7 L246.1,370.4 L246.9,368.6 L247.7,367.5 L248.5,367.1 L249.3,367.4 L250.1,368.3 L250.9,369.9 L251.7,372.0 L252.5,374.5 L253.3,377.4 L254.1,380.6 L254.9,383.9 L255.7,387.2 L256.5,390.6 L257.3,393.9 L258.1,397.1 L258.9,400.1 L259.7,403.0 L260.5,405.8 L261.3,408.4 L262.1,410.8 L262.9,413.0 L263.7,415.1 L264.5,417.1 L265.3,418.9 L266.1,420.6 L266.9,422.1 L267.7,423.6 L268.5,424.9 L269.3,426.1 L270.1,427.3 L270.9,428.4 L271.7,429.3 L272.5,430.3 L273.3,431.1 L274.1,431.9 L274.9,432.7 L275.7,433.4 L276.5,434.0 L277.3,434.7 L278.1,435.2 L278.9,435.8 L279.7,436.3 L280.5,436.8 L281.3,437.2 L282.1,437.6 L282.9,438.0 L283.7,438.4 L284.5,438.8 L285.3,439.1 L286.1,439.4 L286.9,439.7 L287.7,440.0 L288.5,440.3 L289.3,440.5 L290.1,440.8 L290.9,441.0 L291.7,441.2 L292.5,441.4 L293.3,441.6 L294.1,441.8 L294.9,442.0 L295.7,442.2 L296.5,442.3 L297.3,442.5 L298.1,442.7 L298.9,442.8 L299.7,442.9 L300.5,443.1 L301.3,443.2 L302.1,443.3 L302.9,443.4 L303.7,443.6 L304.5,443.7 L305.3,443.8 L306.1,443.9 L306.9,444.0 L307.7,444.1 L308.5,444.2 L309.3,444.2 L310.1,444.3 L310.9,444.4 L311.7,444.5 L312.5,444.6 L313.3,444.6 L314.1,444.7 L314.9,444.8 L315.7,444.8 L316.5,444.9 L317.3,445.0 L318.1,445.0 L318.9,445.1 L319.7,445.1 L320.5,445.2 L321.3,445.2 L322.1,445.3 L322.9,445.3 L323.7,445.4 L324.5,445.4 L325.3,445.5 L326.1,445.5 L326.9,445.6 L327.7,445.6 L328.5,445.7 L329.3,445.7 L330.1,445.7 L330.9,445.8 L331.7,445.8 L332.5,445.8 L333.3,445.9 L334.1,445.9 L334.9,445.9 L335.7,446.0 L336.5,446.0 L337.3,446.0 L338.1,446.1 L338.9,446.1 L339.7,446.1 L340.5,446.1 L341.3,446.2 L342.1,446.2 L342.9,446.2 L343.7,446.3 L344.5,446.3 L345.3,446.3 L346.1,446.3 L346.9,446.3 L347.7,446.4 L348.5,446.4 L349.3,446.4 L350.1,446.4 L350.9,446.4 L351.7,446.5 L352.5,446.5 L353.3,446.5 L354.1,446.5 L354.9,446.5 L355.7,446.6 L356.5,446.6 L357.3,446.6 L358.1,446.6 L358.9,446.6 L359.7,446.6 L360.5,446.7 L361.3,446.7 L362.1,446.7 L362.9,446.7 L363.7,446.7 L364.5,446.7 L365.3,446.7 L366.1,446.8 L366.9,446.8 L367.7,446.8 L368.5,446.8 L369.3,446.8 L370.1,446.8 L370.9,446.8 L371.7,446.9 L372.5,446.9 L373.3,446.9 L374.1,446.9 L374.9,446.9 L375.7,446.9 L376.5,446.9 L377.3,446.9 L378.1,446.9 L378.9,447.0 L379.7,447.0 L380.5,447.0 L381.3,447.0 L382.1,447.0 L382.9,447.0 L383.7,447.0 L384.5,447.0 L385.3,447.0 L386.1,447.0 L386.9,447.0 L387.7,447.1 L388.5,447.1 L389.3,447.1 L390.1,447.1 L390.9,447.1 L391.7,447.1 L392.5,447.1 L393.3,447.1 L394.1,447.1 L394.9,447.1 L395.7,447.1 L396.5,447.1 L397.3,447.1 L398.1,447.2 L398.9,447.2 L399.7,447.2 L400.5,447.2 L401.3,447.2 L402.1,447.2 L402.9,447.2 L403.7,447.2 L404.5,447.2 L405.3,447.2 L406.1,447.2 L406.9,447.2 L407.7,447.2 L408.5,447.2 L409.3,447.2 L410.1,447.2 L410.9,447.3 L411.7,447.3 L412.5,447.3 L413.3,447.3 L414.1,447.3 L414.9,447.3" stroke="#ff0000" stroke-width="1.4" fill="none" stroke-linejoin="round"/>
<path d="M69.3,447.8 L70.1,447.8 L70.9,447.8 L71.7,447.8 L72.5,447.8 L73.3,447.8 L74.1,447.8 L74.9,447.8 L75.7,447.8 L76.5,447.8 L77.3,447.8 L78.1,447.8 L78.9,447.8 L79.7,447.8 L80.5,447.8 L81.3,447.8 L82.1,447.8 L82.9,447.8 L83.7,447.8 L84.5,447.8 L85.3,447.8 L86.1,447.8 L86.9,447.8 L87.7,447.8 L88.5,447.8 L89.3,447.8 L90.1,447.8 L90.9,447.8 L91.7,447.8 L92.5,447.8 L93.3,447.8 L94.1,447.8 L94.9,447.8 L95.7,447.8 L96.5,447.8 L97.3,447.8 L98.1,447.7 L98.9,447.7 L99.7,447.7 L100.5,447.7 L101.3,447.7 L102.1,447.7 L102.9,447.7 L103.7,447.7 L104.5,447.7 L105.3,447.7 L106.1,447.7 L106.9,447.7 L107.7,447.7 L108.5,447.7 L109.3,447.7 L110.1,447.7 L110.9,447.7 L111.7,447.7 L112.5,447.7 L113.3,447.7 L114.1,447.7 L114.9,447.7 L115.7,447.7 L116.5,447.7 L117.3,447.7 L118.1,447.7 L118.9,447.7 L119.7,447.7 L120.5,447.7 L121.3,447.7 L122.1,447.7 L122.9,447.7 L123.7,447.7 L124.5,447.7 L125.3,447.6 L126.1,447.6 L126.9,447.6 L127.7,447.6 L128.5,447.6 L129.3,447.6 L130.1,447.6 L130.9,447.6 L131.7,447.6 L132.5,447.6 L133.3,447.6 L134.1,447.6 L134.9,447.6 L135.7,447.6 L136.5,447.6 L137.3,447.6 L138.1,447.6 L138.9,447.6 L139.7,447.6 L140.5,447.6 L141.3,447.6 L142.1,447.6 L142.9,447.5 L143.7,447.5 L144.5,447.5 L145.3,447.5 L146.1,447.5 L146.9,447.5 L147.7,447.5 L148.5,447.5 L149.3,447.5 L150.1,447.5 L150.9,447.5 L151.7,447.5 L152.5,447.5 L153.3,447.5 L154.1,447.5 L154.9,447.4 L155.7,447.4 L156.5,447.4 L157.3,447.4 L158.1,447.4 L158.9,447.4 L159.7,447.4 L160.5,447.4 L161.3,447.4 L162.1,447.4 L162.9,447.4 L163.7,447.4 L164.5,447.3 L165.3,447.3 L166.1,447.3 L166.9,447.3 L167.7,447.3 L168.5,447.3 L169.3,447.3 L170.1,447.3 L170.9,447.3 L171.7,447.2 L172.5,447.2 L173.3,447.2 L174.1,447.2 L174.9,447.2 L175.7,447.2 L176.5,447.2 L177.3,447.2 L178.1,447.1 L178.9,447.1 L179.7,447.1 L180.5,447.1 L181.3,447.1 L182.1,447.1 L182.9,447.0 L183.7,447.0 L184.5,447.0 L185.3,447.0 L186.1,447.0 L186.9,446.9 L187.7,446.9 L188.5,446.9 L189.3,446.9 L190.1,446.9 L190.9,446.8 L191.7,446.8 L192.5,446.8 L193.3,446.8 L194.1,446.7 L194.9,446.7 L195.7,446.7 L196.5,446.7 L197.3,446.6 L198.1,446.6 L198.9,446.6 L199.7,446.5 L200.5,446.5 L201.3,446.5 L202.1,446.5 L202.9,446.4 L203.7,446.4 L204.5,446.3 L205.3,446.3 L206.1,446.3 L206.9,446.2 L207.7,446.2 L208.5,446.1 L209.3,446.1 L210.1,446.0 L210.9,446.0 L211.7,445.9 L212.5,445.9 L213.3,445.8 L214.1,445.8 L214.9,445.7 L215.7,445.7 L216.5,445.6 L217.3,445.5 L218.1,445.5 L218.9,445.4 L219.7,445.3 L220.5,445.2 L221.3,445.2 L222.1,445.1 L222.9,445.0 L223.7,444.9 L224.5,444.8 L225.3,444.7 L226.1,444.6 L226.9,444.5 L227.7,444.4 L228.5,444.3 L229.3,444.1 L230.1,444.0 L230.9,443.9 L231.7,443.7 L232.5,443.6 L233.3,443.4 L234.1,443.2 L234.9,443.1 L235.7,442.9 L236.5,442.7 L237.3,442.5 L238.1,442.3 L238.9,442.0 L239.7,441.8 L240.5,441.5 L241.3,441.3 L242.1,441.0 L242.9,440.7 L243.7,440.3 L244.5,440.0 L245.3,439.6 L246.1,439.2 L246.9,438.8 L247.7,438.3 L248.5,437.8 L249.3,437.3 L250.1,436.8 L250.9,436.2 L251.7,435.5 L252.5,434.8 L253.3,434.1 L254.1,433.3 L254.9,432.4 L255.7,431.4 L256.5,430.4 L257.3,429.3 L258.1,428.1 L258.9,426.8 L259.7,425.3 L260.5,423.8 L261.3,422.0 L262.1,420.2 L262.9,418.1 L263.7,415.9 L264.5,413.5 L265.3,410.8 L266.1,407.9 L266.9,404.8 L267.7,401.4 L268.5,397.7 L269.3,393.9 L270.1,389.7 L270.9,385.4 L271.7,381.0 L272.5,376.5 L273.3,372.0 L274.1,367.8 L274.9,363.9 L275.7,360.6 L276.5,357.9 L277.3,356.1 L278.1,355.3 L278.9,355.4 L279.7,356.5 L280.5,358.5 L281.3,361.3 L282.1,364.7 L282.9,368.6 L283.7,372.7 L284.5,377.0 L285.3,381.4 L286.1,385.6 L286.9,389.8 L287.7,393.7 L288.5,397.4 L289.3,400.9 L290.1,404.1 L290.9,407.1 L291.7,409.9 L292.5,412.4 L293.3,414.7 L294.1,416.9 L294.9,418.9 L295.7,420.7 L296.5,422.3 L297.3,423.9 L298.1,425.3 L298.9,426.6 L299.7,427.8 L300.5,428.9 L301.3,429.9 L302.1,430.9 L302.9,431.7 L303.7,432.6 L304.5,433.3 L305.3,434.0 L306.1,434.7 L306.9,435.3 L307.7,435.9 L308.5,436.4 L309.3,436.9 L310.1,437.4 L310.9,437.8 L311.7,438.2 L312.5,438.6 L313.3,439.0 L314.1,439.3 L314.9,439.6 L315.7,439.9 L316.5,440.2 L317.3,440.5 L318.1,440.8 L318.9,441.0 L319.7,441.2 L320.5,441.5 L321.3,441.7 L322.1,441.9 L322.9,442.1 L323.7,442.2 L324.5,442.4 L325.3,442.6 L326.1,442.7 L326.9,442.9 L327.7,443.0 L328.5,443.2 L329.3,443.3 L330.1,443.4 L330.9,443.6 L331.7,443.7 L332.5,443.8 L333.3,443.9 L334.1,444.0 L334.9,444.1 L335.7,444.2 L336.5,444.3 L337.3,444.4 L338.1,444.5 L338.9,444.5 L339.7,444.6 L340.5,444.7 L341.3,444.8 L342.1,444.8 L342.9,444.9 L343.7,445.0 L344.5,445.0 L345.3,445.1 L346.1,445.2 L346.9,445.2 L347.7,445.3 L348.5,445.3 L349.3,445.4 L350.1,445.4 L350.9,445.5 L351.7,445.5 L352.5,445.6 L353.3,445.6 L354.1,445.7 L354.9,445.7 L355.7,445.7 L356.5,445.8 L357.3,445.8 L358.1,445.9 L358.9,445.9 L359.7,445.9 L360.5,446.0 L361.3,446.0 L362.1,446.0 L362.9,446.1 L363.7,446.1 L364.5,446.1 L365.3,446.1 L366.1,446.2 L366.9,446.2 L367.7,446.2 L368.5,446.3 L369.3,446.3 L370.1,446.3 L370.9,446.3 L371.7,446.4 L372.5,446.4 L373.3,446.4 L374.1,446.4 L374.9,446.4 L375.7,446.5 L376.5,446.5 L377.3,446.5 L378.1,446.5 L378.9,446.5 L379.7,446.6 L380.5,446.6 L381.3,446.6 L382.1,446.6 L382.9,446.6 L383.7,446.7 L384.5,446.7 L385.3,446.7 L386.1,446.7 L386.9,446.7 L387.7,446.7 L388.5,446.7 L389.3,446.8 L390.1,446.8 L390.9,446.8 L391.7,446.8 L392.5,446.8 L393.3,446.8 L394.1,446.8 L394.9,446.9 L395.7,446.9 L396.5,446.9 L397.3,446.9 L398.1,446.9 L398.9,446.9 L399.7,446.9 L400.5,446.9 L401.3,447.0 L402.1,447.0 L402.9,447.0 L403.7,447.0 L404.5,447.0 L405.3,447.0 L406.1,447.0 L406.9,447.0 L407.7,447.0 L408.5,447.0 L409.3,447.1 L410.1,447.1 L410.9,447.1 L411.7,447.1 L412.5,447.1 L413.3,447.1 L414.1,447.1 L414.9,447.1" stroke="#ff0000" stroke-width="1.4" fill="none" stroke-linejoin="round"/>
<path d="M69.3,447.8 L70.1,447.8 L70.9,447.8 L71.7,447.7 L72.5,447.7 L73.3,447.7 L74.1,447.7 L74.9,447.7 L75.7,447.7 L76.5,447.7 L77.3,447.7 L78.1,447.7 L78.9,447.7 L79.7,447.7 L80.5,447.7 L81.3,447.7 L82.1,447.7 L82.9,447.7 L83.7,447.7 L84.5,447.7 L85.3,447.7 L86.1,447.7 L86.9,447.7 L87.7,447.7 L88.5,447.7 L89.3,447.7 L90.1,447.7 L90.9,447.7 L91.7,447.7 L92.5,447.6 L93.3,447.6 L94.1,447.6 L94.9,447.6 L95.7,447.6 L96.5,447.6 L97.3,447.6 L98.1,447.6 L98.9,447.6 L99.7,447.6 L100.5,447.6 L101.3,447.6 L102.1,447.6 L102.9,447.6 L103.7,447.6 L104.5,447.5 L105.3,447.5 L106.1,447.5 L106.9,447.5 L107.7,447.5 L108.5,447.5 L109.3,447.5 L110.1,447.5 L110.9,447.5 L111.7,447.5 L112.5,447.5 L113.3,447.5 L114.1,447.4 L114.9,447.4 L115.7,447.4 L116.5,447.4 L117.3,447.4 L118.1,447.4 L118.9,447.4 L119.7,447.4 L120.5,447.3 L121.3,447.3 L122.1,447.3 L122.9,447.3 L123.7,447.3 L124.5,447.3 L125.3,447.3 L126.1,447.2 L126.9,447.2 L127.7,447.2 L128.5,447.2 L129.3,447.2 L130.1,447.1 L130.9,447.1 L131.7,447.1 L132.5,447.1 L133.3,447.1 L134.1,447.0 L134.9,447.0 L135.7,447.0 L136.5,447.0 L137.3,446.9 L138.1,446.9 L138.9,446.9 L139.7,446.8 L140.5,446.8 L141.3,446.8 L142.1,446.7 L142.9,446.7 L143.7,446.7 L144.5,446.6 L145.3,446.6 L146.1,446.5 L146.9,446.5 L147.7,446.4 L148.5,446.4 L149.3,446.3 L150.1,446.3 L150.9,446.2 L151.7,446.2 L152.5,446.1 L153.3,446.0 L154.1,445.9 L154.9,445.9 L155.7,445.8 L156.5,445.7 L157.3,445.6 L158.1,445.5 L158.9,445.4 L159.7,445.3 L160.5,445.2 L161.3,445.1 L162.1,445.0 L162.9,444.9 L163.7,444.7 L164.5,444.6 L165.3,444.4 L166.1,444.2 L166.9,444.1 L167.7,443.9 L168.5,443.7 L169.3,443.5 L170.1,443.2 L170.9,443.0 L171.7,442.7 L172.5,442.4 L173.3,442.1 L174.1,441.8 L174.9,441.4 L175.7,441.0 L176.5,440.6 L177.3,440.2 L178.1,439.7 L178.9,439.1 L179.7,438.6 L180.5,437.9 L181.3,437.3 L182.1,436.5 L182.9,435.7 L183.7,434.9 L184.5,433.9 L185.3,432.9 L186.1,431.8 L186.9,430.7 L187.7,429.4 L188.5,428.1 L189.3,426.7 L190.1,425.2 L190.9,423.7 L191.7,422.2 L192.5,420.6 L193.3,419.1 L194.1,417.7 L194.9,416.4 L195.7,415.3 L196.5,414.4 L197.3,413.7 L198.1,413.4 L198.9,413.3 L199.7,413.6 L200.5,414.2 L201.3,415.0 L202.1,416.0 L202.9,417.2 L203.7,418.6 L204.5,420.0 L205.3,421.5 L206.1,423.0 L206.9,424.4 L207.7,425.8 L208.5,427.2 L209.3,428.5 L210.1,429.7 L210.9,430.8 L211.7,431.9 L212.5,432.9 L213.3,433.8 L214.1,434.6 L214.9,435.4 L215.7,436.2 L216.5,436.8 L217.3,437.5 L218.1,438.1 L218.9,438.6 L219.7,439.1 L220.5,439.6 L221.3,440.0 L222.1,440.4 L222.9,440.8 L223.7,441.1 L224.5,441.4 L225.3,441.7 L226.1,442.0 L226.9,442.3 L227.7,442.5 L228.5,442.8 L229.3,443.0 L230.1,443.2 L230.9,443.4 L231.7,443.5 L232.5,443.7 L233.3,443.9 L234.1,444.0 L234.9,444.2 L235.7,444.3 L236.5,444.4 L237.3,444.6 L238.1,444.7 L238.9,444.8 L239.7,444.9 L240.5,445.0 L241.3,445.1 L242.1,445.2 L242.9,445.2 L243.7,445.3 L244.5,445.4 L245.3,445.5 L246.1,445.5 L246.9,445.6 L247.7,445.7 L248.5,445.7 L249.3,445.8 L250.1,445.9 L250.9,445.9 L251.7,446.0 L252.5,446.0 L253.3,446.1 L254.1,446.1 L254.9,446.2 L255.7,446.2 L256.5,446.2 L257.3,446.3 L258.1,446.3 L258.9,446.4 L259.7,446.4 L260.5,446.4 L261.3,446.5 L262.1,446.5 L262.9,446.5 L263.7,446.5 L264.5,446.6 L265.3,446.6 L266.1,446.6 L266.9,446.7 L267.7,446.7 L268.5,446.7 L269.3,446.7 L270.1,446.8 L270.9,446.8 L271.7,446.8 L272.5,446.8 L273.3,446.8 L274.1,446.9 L274.9,446.9 L275.7,446.9 L276.5,446.9 L277.3,446.9 L278.1,446.9 L278.9,447.0 L279.7,447.0 L280.5,447.0 L281.3,447.0 L282.1,447.0 L282.9,447.0 L283.7,447.1 L284.5,447.1 L285.3,447.1 L286.1,447.1 L286.9,447.1 L287.7,447.1 L288.5,447.1 L289.3,447.1 L290.1,447.2 L290.9,447.2 L291.7,447.2 L292.5,447.2 L293.3,447.2 L294.1,447.2 L294.9,447.2 L295.7,447.2 L296.5,447.2 L297.3,447.2 L298.1,447.3 L298.9,447.3 L299.7,447.3 L300.5,447.3 L301.3,447.3 L302.1,447.3 L302.9,447.3 L303.7,447.3 L304.5,447.3 L305.3,447.3 L306.1,447.3 L306.9,447.3 L307.7,447.4 L308.5,447.4 L309.3,447.4 L310.1,447.4 L310.9,447.4 L311.7,447.4 L312.5,447.4 L313.3,447.4 L314.1,447.4 L314.9,447.4 L315.7,447.4 L316.5,447.4 L317.3,447.4 L318.1,447.4 L318.9,447.4 L319.7,447.4 L320.5,447.4 L321.3,447.5 L322.1,447.5 L322.9,447.5 L323.7,447.5 L324.5,447.5 L325.3,447.5 L326.1,447.5 L326.9,447.5 L327.7,447.5 L328.5,447.5 L329.3,447.5 L330.1,447.5 L330.9,447.5 L331.7,447.5 L332.5,447.5 L333.3,447.5 L334.1,447.5 L334.9,447.5 L335.7,447.5 L336.5,447.5 L337.3,447.5 L338.1,447.5 L338.9,447.5 L339.7,447.5 L340.5,447.6 L341.3,447.6 L342.1,447.6 L342.9,447.6 L343.7,447.6 L344.5,447.6 L345.3,447.6 L346.1,447.6 L346.9,447.6 L347.7,447.6 L348.5,447.6 L349.3,447.6 L350.1,447.6 L350.9,447.6 L351.7,447.6 L352.5,447.6 L353.3,447.6 L354.1,447.6 L354.9,447.6 L355.7,447.6 L356.5,447.6 L357.3,447.6 L358.1,447.6 L358.9,447.6 L359.7,447.6 L360.5,447.6 L361.3,447.6 L362.1,447.6 L362.9,447.6 L363.7,447.6 L364.5,447.6 L365.3,447.6 L366.1,447.6 L366.9,447.6 L367.7,447.6 L368.5,447.6 L369.3,447.6 L370.1,447.6 L370.9,447.7 L371.7,447.7 L372.5,447.7 L373.3,447.7 L374.1,447.7 L374.9,447.7 L375.7,447.7 L376.5,447.7 L377.3,447.7 L378.1,447.7 L378.9,447.7 L379.7,447.7 L380.5,447.7 L381.3,447.7 L382.1,447.7 L382.9,447.7 L383.7,447.7 L384.5,447.7 L385.3,447.7 L386.1,447.7 L386.9,447.7 L387.7,447.7 L388.5,447.7 L389.3,447.7 L390.1,447.7 L390.9,447.7 L391.7,447.7 L392.5,447.7 L393.3,447.7 L394.1,447.7 L394.9,447.7 L395.7,447.7 L396.5,447.7 L397.3,447.7 L398.1,447.7 L398.9,447.7 L399.7,447.7 L400.5,447.7 L401.3,447.7 L402.1,447.7 L402.9,447.7 L403.7,447.7 L404.5,447.7 L405.3,447.7 L406.1,447.7 L406.9,447.7 L407.7,447.7 L408.5,447.7 L409.3,447.7 L410.1,447.7 L410.9,447.7 L411.7,447.7 L412.5,447.7 L413.3,447.7 L414.1,447.7 L414.9,447.7" stroke="#ff0000" stroke-width="1.4" fill="none" stroke-linejoin="round"/>
<line x1="172.9" y1="370.3" x2="172.9" y2="448.5" stroke="#0000ff" stroke-width="1.85"/>
<line x1="290.1" y1="386.9" x2="290.1" y2="448.5" stroke="#0000ff" stroke-width="1.85"/>
<path d="M69.7,447.4 C70.0,446.8 70.7,444.0 71.5,443.7 C72.3,443.4 73.4,445.0 74.3,445.6 C75.2,446.2 76.1,447.3 77.0,447.4 C77.9,447.6 79.0,447.1 79.8,446.5 C80.6,445.9 81.3,443.9 82.1,443.7 C82.8,443.6 83.5,444.9 84.3,445.6 C85.1,446.3 86.2,447.8 87.1,447.9 C88.0,448.1 89.0,447.1 89.9,446.5 C90.8,445.9 91.8,445.8 92.6,444.6 C93.3,443.4 93.8,439.9 94.4,439.5 C95.0,439.1 95.5,440.7 96.3,441.9 C97.1,443.1 98.2,445.6 99.0,446.5 C99.8,447.4 100.1,448.0 100.9,447.4 C101.7,446.8 102.7,443.5 103.6,442.8 C104.5,442.1 105.3,442.9 106.4,443.2 C107.5,443.5 108.8,444.6 110.0,444.6 C111.2,444.6 112.6,443.7 113.7,443.2 C114.8,442.8 115.7,442.4 116.5,441.9 C117.3,441.4 117.7,440.0 118.3,440.4 C118.9,440.9 119.5,443.9 120.1,444.6 C120.7,445.3 121.4,445.1 122.0,444.6 C122.6,444.2 123.0,442.7 123.8,441.9 C124.6,441.1 125.5,440.4 126.6,440.0 C127.7,439.6 129.2,439.5 130.2,439.5 C131.2,439.5 132.4,440.0 132.8,440.1" stroke="#000" stroke-width="3.1" fill="none" stroke-linejoin="round" stroke-linecap="round"/>
<path d="M69.7,447.4 C70.0,446.8 70.7,444.0 71.5,443.7 C72.3,443.4 73.4,445.0 74.3,445.6 C75.2,446.2 76.1,447.3 77.0,447.4 C77.9,447.6 79.0,447.1 79.8,446.5 C80.6,445.9 81.3,443.9 82.1,443.7 C82.8,443.6 83.5,444.9 84.3,445.6 C85.1,446.3 86.2,447.8 87.1,447.9 C88.0,448.1 89.0,447.1 89.9,446.5 C90.8,445.9 91.8,445.8 92.6,444.6 C93.3,443.4 93.8,439.9 94.4,439.5 C95.0,439.1 95.5,440.7 96.3,441.9 C97.1,443.1 98.2,445.6 99.0,446.5 C99.8,447.4 100.1,448.0 100.9,447.4 C101.7,446.8 102.7,443.5 103.6,442.8 C104.5,442.1 105.3,442.9 106.4,443.2 C107.5,443.5 108.8,444.6 110.0,444.6 C111.2,444.6 112.6,443.7 113.7,443.2 C114.8,442.8 115.7,442.4 116.5,441.9 C117.3,441.4 117.7,440.0 118.3,440.4 C118.9,440.9 119.5,443.9 120.1,444.6 C120.7,445.3 121.4,445.1 122.0,444.6 C122.6,444.2 123.0,442.7 123.8,441.9 C124.6,441.1 125.5,440.4 126.6,440.0 C127.7,439.6 129.2,439.5 130.2,439.5 C131.2,439.5 131.9,440.4 132.8,440.1 C133.7,439.8 134.5,438.5 135.5,437.5 C136.5,436.5 137.6,434.9 138.9,434.3 C140.2,433.7 141.6,434.6 143.1,434.0 C144.6,433.4 146.3,431.9 147.9,430.6 C149.5,429.4 151.2,427.9 152.7,426.5 C154.2,425.1 155.5,423.9 156.8,422.3 C158.1,420.7 159.2,419.2 160.3,416.8 C161.5,414.4 162.7,410.8 163.7,407.9 C164.7,405.0 165.6,402.6 166.5,399.6 C167.4,396.6 168.3,393.4 169.2,390.0 C170.1,386.6 170.8,384.1 171.7,379.0 C172.6,373.9 173.7,365.1 174.6,359.5 C175.5,353.9 176.5,349.7 177.2,345.1 C177.9,340.5 178.1,337.0 178.8,332.1 C179.5,327.2 180.5,321.1 181.3,316.0 C182.1,310.9 183.0,305.0 183.7,301.6 C184.4,298.2 184.7,297.2 185.3,295.9 C185.9,294.6 186.7,294.0 187.4,294.0 C188.1,294.0 188.6,294.8 189.3,295.9 C190.0,297.0 190.8,299.2 191.7,300.8 C192.6,302.4 194.0,304.5 194.9,305.6 C195.8,306.7 196.5,307.7 197.3,307.2 C198.1,306.7 198.6,303.9 199.7,302.4 C200.8,300.9 202.5,299.9 203.7,298.3 C204.9,296.7 206.0,294.8 206.9,292.7 C207.8,290.6 208.5,288.3 209.3,285.5 C210.1,282.7 211.0,278.8 211.8,275.9 C212.6,272.9 213.5,269.7 214.2,267.8 C214.9,265.9 215.4,265.1 216.1,264.3 C216.8,263.6 217.5,263.2 218.2,263.3 C218.9,263.4 219.6,263.4 220.3,264.6 C221.0,265.8 221.5,267.6 222.2,270.3 C222.9,273.0 223.8,277.1 224.6,280.7 C225.4,284.3 226.2,288.1 227.0,291.9 C227.8,295.6 228.5,299.7 229.4,303.2 C230.3,306.7 231.5,310.3 232.4,312.8 C233.3,315.3 234.0,316.9 234.8,318.1 C235.6,319.3 236.3,320.1 237.2,320.2 C238.1,320.3 239.3,319.9 240.4,318.9 C241.5,317.9 242.8,315.4 243.7,314.4 C244.6,313.4 245.2,313.0 246.1,313.0 C247.0,313.0 248.4,313.3 249.3,314.4 C250.2,315.5 250.8,316.8 251.7,319.7 C252.6,322.6 253.8,327.7 254.9,331.7 C256.0,335.7 257.0,340.3 258.1,343.8 C259.2,347.3 260.3,350.7 261.3,352.6 C262.3,354.5 263.3,355.1 264.2,355.0 C265.1,354.9 265.9,353.8 266.9,351.8 C267.9,349.8 269.0,346.1 270.1,343.0 C271.2,339.9 272.4,335.9 273.4,333.3 C274.3,330.8 275.0,328.8 275.8,327.7 C276.6,326.6 277.4,326.3 278.2,326.6 C278.9,326.9 279.6,327.4 280.3,329.3 C281.0,331.2 281.6,335.6 282.2,338.2 C282.8,340.8 283.5,341.4 284.1,344.6 C284.7,347.8 285.1,353.1 285.7,357.4 C286.3,361.7 287.0,364.8 287.8,370.3 C288.6,375.9 289.4,385.3 290.5,390.7 C291.6,396.1 293.1,399.9 294.3,402.8 C295.5,405.7 296.5,406.9 297.9,408.3 C299.3,409.7 301.3,409.6 302.5,411.1 C303.7,412.6 303.9,414.4 305.3,417.5 C306.7,420.6 309.4,427.7 310.8,429.4 C312.2,431.1 312.6,427.9 313.5,427.6 C314.4,427.3 315.2,428.2 316.3,427.6 C317.4,427.0 318.8,424.7 319.9,423.9 C321.0,423.1 322.1,420.7 322.7,422.7 C323.3,424.7 323.4,431.6 323.6,435.9 C323.9,440.1 324.1,446.1 324.2,448.2" stroke="#000" stroke-width="2.4" fill="none" stroke-linejoin="round"/>
<path d="M327.3,448.2 C327.9,447.5 329.9,445.4 331.0,444.1 C332.1,442.8 332.6,441.2 333.7,440.5 C334.8,439.8 336.2,440.4 337.4,439.9 C338.6,439.4 339.5,437.9 341.0,437.7 C342.5,437.5 345.1,438.5 346.6,438.6 C348.1,438.7 348.5,438.8 350.0,438.5 C351.5,438.2 354.0,437.3 355.5,436.7 C357.0,436.1 358.1,436.0 359.2,434.9 C360.3,433.8 361.1,432.1 361.9,430.3 C362.7,428.5 363.2,424.7 363.8,423.9 C364.4,423.1 365.0,423.6 365.6,425.7 C366.2,427.8 366.9,434.1 367.4,436.7 C367.8,439.3 368.0,441.6 368.3,441.3 C368.6,441.0 368.8,435.4 369.3,434.9 C369.8,434.4 370.5,436.8 371.1,438.5 C371.7,440.2 372.3,443.8 372.9,445.0 C373.5,446.2 374.2,446.7 374.8,445.9 C375.4,445.1 376.0,440.5 376.6,440.4 C377.2,440.2 377.8,444.1 378.4,445.0 C379.0,445.9 379.7,446.2 380.3,445.9 C380.9,445.6 381.5,443.0 382.1,443.1 C382.7,443.2 383.3,446.8 383.9,446.8 C384.5,446.8 385.0,444.0 385.8,443.1 C386.6,442.2 387.6,441.2 388.5,441.3 C389.4,441.4 390.4,443.9 391.3,444.0 C392.2,444.1 393.1,442.0 394.0,442.2 C394.9,442.4 396.0,444.2 396.8,445.0 C397.6,445.8 398.0,447.0 398.6,446.8 C399.2,446.6 399.9,443.9 400.5,444.0 C401.1,444.1 401.6,447.0 402.3,447.7 C403.1,448.4 404.2,448.6 405.0,448.1 C405.8,447.7 406.3,445.9 406.9,445.0 C407.5,444.1 407.9,443.2 408.7,442.6 C409.5,442.0 410.7,442.0 411.5,441.3 C412.3,440.6 412.7,439.2 413.3,438.5 C413.9,437.8 414.8,437.4 415.1,437.2" stroke="#000" stroke-width="2.6" fill="none" stroke-linejoin="round"/>
<path d="M108.53,470.20L107.15,470.20L107.15,461.41Q106.65,461.88 105.84,462.36Q105.03,462.83 104.39,463.07L104.39,461.74Q105.54,461.19 106.41,460.42Q107.28,459.64 107.64,458.91L108.53,458.91Z" fill="#000" stroke="#000" stroke-width="0.22" stroke-linejoin="round"/>
<text x="102.68" y="470.2" font-size="15.7"><tspan class="h">1</tspan>5000</text>
<text x="171.93" y="470.2" font-size="15.7">20000</text>
<text x="241.18" y="470.2" font-size="15.7">25000</text>
<text x="310.43" y="470.2" font-size="15.7">30000</text>
<text x="379.68" y="470.2" font-size="15.7">35000</text>
<text x="161.5" y="496.4" font-size="18.6">Wavenumber <tspan dy="0.6">(</tspan><tspan dy="-0.6">cm</tspan></text>
<text x="307.58" y="485.90" font-size="10.6">-<tspan class="h" dx="0.3">1</tspan></text>
<path d="M315.36,485.90L314.42,485.90L314.42,479.96Q314.09,480.28 313.54,480.61Q312.99,480.93 312.56,481.09L312.56,480.19Q313.34,479.82 313.93,479.30Q314.51,478.77 314.75,478.28L315.36,478.28Z" fill="#000" stroke="#000" stroke-width="0.22" stroke-linejoin="round"/>
<text x="317.90" y="497.00" font-size="18.6">)</text>
<text transform="translate(41.8,453.5) rotate(-90)" font-size="18.43">Optical conductivity (arb.units)</text>
<line x1="71.2" y1="199.6" x2="104.5" y2="199.6" stroke="#000" stroke-width="2.2"/>
<line x1="71.2" y1="221.9" x2="104.5" y2="221.9" stroke="#ff0000" stroke-width="1.1"/>
<path d="M62.60,247.10L74.80,234.90 M71.30,247.10L83.50,234.90 M80.00,247.10L92.20,234.90 M88.70,247.10L100.90,234.90 M97.40,247.10L109.60,234.90 M106.10,247.10L118.30,234.90" stroke="#0000ff" stroke-width="1.5" fill="none" clip-path="url(#cl)"/>
<rect x="73.6" y="234.85" width="31.4" height="11.75" fill="none" stroke="#0000ff" stroke-width="2"/>
<text x="108" y="203.7" font-size="14.42">CoMoCat CG M</text>
<path d="M213.72,209.60L212.99,209.60L212.99,205.01Q212.73,205.26 212.31,205.50Q211.89,205.75 211.55,205.88L211.55,205.18Q212.16,204.90 212.61,204.49Q213.06,204.09 213.25,203.71L213.72,203.71Z" fill="#000" stroke="#000" stroke-width="0.22" stroke-linejoin="round"/>
<path d="M218.27,209.60L217.55,209.60L217.55,205.01Q217.29,205.26 216.87,205.50Q216.45,205.75 216.11,205.88L216.11,205.18Q216.72,204.90 217.17,204.49Q217.62,204.09 217.81,203.71L218.27,203.71Z" fill="#000" stroke="#000" stroke-width="0.22" stroke-linejoin="round"/>
<text x="210.66" y="209.6" font-size="8.2" class="h">11</text>
<text x="223.19" y="203.7" font-size="14.42">peak</text>
<text x="108" y="226.7" font-size="14.42">Assigned Lorentzians</text>
<text x="108" y="244.5" font-size="14.42">Region used in diameter determination</text>
</svg>
</body></html>
